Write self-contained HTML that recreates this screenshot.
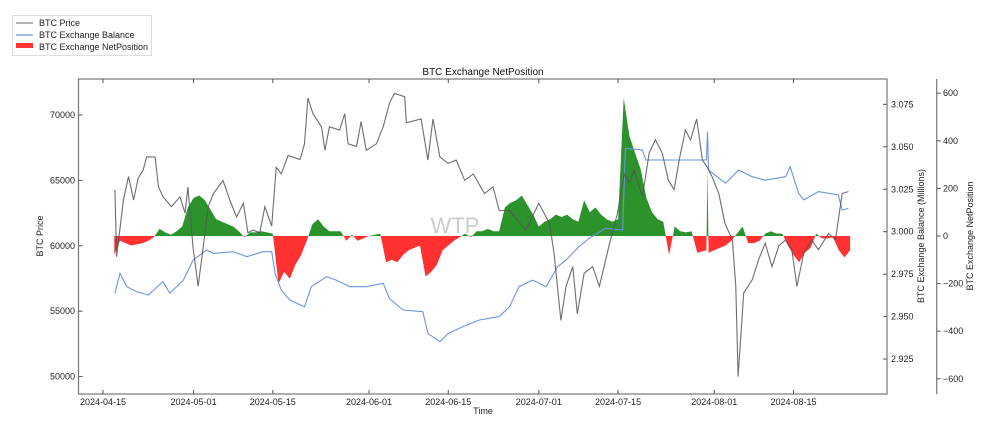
<!DOCTYPE html>
<html><head><meta charset="utf-8"><style>
html,body{margin:0;padding:0;background:#fff;}
svg{display:block;font-family:"Liberation Sans","DejaVu Sans",sans-serif;}
</style></head><body>
<svg id="chart" width="993" height="427" viewBox="0 0 993 427" xmlns="http://www.w3.org/2000/svg">
<defs>
<clipPath id="clipPos"><rect x="78" y="0" width="810" height="236"/></clipPath>
<clipPath id="clipNeg"><rect x="78" y="236" width="810" height="200"/></clipPath>
</defs>
<g id="legend">
<rect x="12.5" y="15.5" width="139" height="40" fill="#fff" stroke="#ddd"/>
<line x1="16" y1="23" x2="33" y2="23" stroke="#888" stroke-width="1.2"/>
<text x="39" y="26" font-size="9" fill="#222">BTC Price</text>
<line x1="16" y1="35" x2="33" y2="35" stroke="#6d93e0" stroke-width="1.2"/>
<text x="39" y="38" font-size="9" fill="#222">BTC Exchange Balance</text>
<rect x="16" y="43" width="17" height="5" fill="#f33"/>
<text x="39" y="50" font-size="9" fill="#222">BTC Exchange NetPosition</text>
</g>
<text x="483" y="75" font-size="10" text-anchor="middle" fill="#111">BTC Exchange NetPosition</text>
<text x="455" y="233" font-size="22" text-anchor="middle" fill="#ccc">WTP</text>
<g id="marks"></g>
<rect x="78.5" y="79" width="808.5" height="315" fill="none" stroke="#777" stroke-width="1.2"/>
<line x1="936.7" y1="79" x2="936.7" y2="394" stroke="#777" stroke-width="1.2"/>
<g id="axes"></g>
<text transform="translate(43,236) rotate(-90)" font-size="9" text-anchor="middle" fill="#222">BTC Price</text>
<text x="483" y="414" font-size="9" text-anchor="middle" fill="#222">Time</text>
<text transform="translate(924,236) rotate(-90)" font-size="9" text-anchor="middle" fill="#222">BTC Exchange Balance (Millions)</text>
<text transform="translate(973,236) rotate(-90)" font-size="9" text-anchor="middle" fill="#222">BTC Exchange NetPosition</text>
</svg>
<script>
const priceDays=[2.1,2.4,3.6,4.5,5.4,6.2,7.1,7.7,9.2,9.8,10.6,12.1,13.6,14.5,15,15.9,16.8,17.7,18.6,19.5,21.2,22.4,23.6,24.8,25.6,26.5,27.7,28.6,29.8,30.6,31.5,32.7,34.8,35.6,36.2,37.1,38.6,39.2,40,41.8,42.7,43.3,44.8,45.6,46.5,48.3,49.5,50.6,51.5,53.3,53.6,56.2,57.4,58.3,59.5,61,62.4,63.9,65.4,67.4,68.9,70,71.8,74.7,77,78.9,79.7,80.9,81.8,83,83.8,85,86.5,87.7,89.4,90.9,92.1,93,93.8,95.3,96.5,97.6,98.8,99.9,100.9,101.8,102.9,103.8,104.9,105.9,106.7,107.6,108.8,109.9,111.2,111.8,112.2,113.2,114.7,115.8,117,118.2,119.4,120.6,121.7,122.6,123.8,125.2,126.4,128.2,129.4,130.6,131.7];
const priceVals=[64270,59170,63500,65300,63500,65160,65800,66800,66800,64500,63750,63000,63750,62500,64500,59900,56900,59900,63000,64000,65000,63500,62200,63250,61000,61200,61000,63000,61500,66000,65500,66900,66600,67800,71300,70100,69100,67300,69100,68850,70100,67800,67600,69500,67300,67800,69100,70900,71650,71400,69400,69700,66560,69700,66800,66300,66560,65000,65500,64000,64500,62700,62700,61200,63250,61700,59400,54300,56900,58400,54800,57900,58400,56900,60000,62500,65500,64800,65800,63750,67100,68100,67100,65000,64300,66560,68850,68100,69700,66560,66050,65300,64000,61700,60450,56900,50000,56400,57400,58900,60200,58400,60000,60450,59700,56900,59400,60450,59700,60950,60450,64000,64140];
const balDays=[2.1,3,4.2,5.9,8,10.6,11.8,14.2,15.9,18.3,19.5,23,25.4,28.3,29.8,30.4,31.5,33,35.6,36.8,39.5,41.2,43.6,46.5,49.5,50.6,53,56.5,57.4,59.5,61,63.6,66.5,70,71.8,73.5,75.9,78.3,80.3,81.8,84.1,85.9,88.8,91.8,92.3,95.3,95.9,99.4,101.8,105.3,106.6,106.8,107,110,112.3,114.7,117,120.6,121.4,122.9,123.8,126.4,129.9,130.6,131.7];
const balVals=[2.9637,2.9755,2.9676,2.9647,2.9627,2.9706,2.9637,2.9715,2.9833,2.9892,2.9872,2.9882,2.9853,2.9882,2.9882,2.9755,2.9656,2.9597,2.9558,2.9676,2.9735,2.9715,2.9676,2.9676,2.9696,2.9607,2.9539,2.9529,2.9401,2.9352,2.9401,2.9441,2.9480,2.9500,2.9558,2.9676,2.9715,2.9676,2.9794,2.9833,2.9912,2.9961,3.0020,3.0010,3.0491,3.0481,3.0422,3.0422,3.0422,3.0422,3.0422,3.0589,3.0363,3.0285,3.0363,3.0324,3.0304,3.0324,3.0383,3.0226,3.0187,3.0236,3.0216,3.0128,3.0137];
const netDays=[2,3,4,5,6,7,8,9,10,11,12,13,14,15,16,17,18,19,20,21,22,23,24,25,26,27,28,29,30,31,32,33,34,35,36,37,38,39,40,41,42,43,44,45,46,47,48,49,50,51,52,53,54,55,56,57,58,59,60,61,62,63,64,65,66,67,68,69,70,71,72,73,74,75,76,77,78,79,80,81,82,83,84,85,86,87,88,89,90,91,92,93,94,95,96,97,98,99,100,101,102,103,104,105,106.6,106.8,107,108,109,110,111,112,113,114,115,116,117,118,119,120,121,122,123,124,125,126,127,128,129,130,131,132];
const netVals=[-80,-20,-30,-40,-35,-30,-20,-5,30,15,5,20,40,120,160,170,150,110,70,60,50,40,20,-5,15,15,20,15,10,-200,-150,-180,-120,-80,-20,50,70,40,20,20,20,-20,5,-20,-10,0,5,10,-110,-100,-110,-80,-60,-50,-40,-170,-150,-120,-60,-40,-20,-5,10,-5,20,20,30,20,20,120,140,150,170,130,90,40,60,70,90,80,90,70,60,150,100,120,90,70,60,70,580,420,350,280,160,100,70,60,-80,40,20,15,20,-70,-60,280,-70,-60,-50,-40,-20,10,40,-30,-30,-20,10,20,10,10,-40,-80,-110,-70,-50,10,-10,-10,-5,-60,-90,-60];
const dateTicks=["2024-04-15","2024-05-01","2024-05-15","2024-06-01","2024-06-15","2024-07-01","2024-07-15","2024-08-01","2024-08-15"];
const dateTickDays=[0,16,30,47,61,77,91,108,122];
const priceTicks=[50000,55000,60000,65000,70000];
const balTicks=[2.925,2.950,2.975,3.000,3.025,3.050,3.075];
const netTicks=[-600,-400,-200,0,200,400,600];

const NS="http://www.w3.org/2000/svg";
const xS=d=>103+d*5.66;
const yP=p=>115+(70000-p)*0.01308;
const yB=b=>231.7+(3-b)/0.025*42.45;
const yN=n=>236-n/200*47.6;
function mk(tag,attrs,parent){const e=document.createElementNS(NS,tag);for(const k in attrs)e.setAttribute(k,attrs[k]);parent.appendChild(e);return e;}
const marks=document.getElementById('marks');
const axes=document.getElementById('axes');

let pts=[];
for(let i=0;i<netDays.length;i++)pts.push(xS(netDays[i]).toFixed(1)+","+yN(netVals[i]).toFixed(1));
const areaPts=xS(netDays[0]).toFixed(1)+","+yN(0)+" "+pts.join(" ")+" "+xS(netDays[netDays.length-1]).toFixed(1)+","+yN(0);
const pos=mk('polygon',{points:areaPts,fill:'#1a8a1a','fill-opacity':'0.92','clip-path':'url(#clipPos)'},marks);


const neg=mk('polygon',{points:areaPts,fill:'#ff2020','fill-opacity':'0.92','clip-path':'url(#clipNeg)'},marks);



const bl=mk('polyline',{points:balDays.map((d,i)=>xS(d).toFixed(1)+","+yB(balVals[i]).toFixed(1)).join(" "),fill:'none',stroke:'#6d93e0','stroke-width':'1.1'},marks);


const pl=mk('polyline',{points:priceDays.map((d,i)=>xS(d).toFixed(1)+","+yP(priceVals[i]).toFixed(1)).join(" "),fill:'none',stroke:'#555','stroke-opacity':'0.85','stroke-width':'1.1'},marks);



dateTicks.forEach((t,i)=>{const x=xS(dateTickDays[i]);
 mk('line',{x1:x,y1:394,x2:x,y2:390,stroke:'#555'},axes);mk('line',{x1:x,y1:79,x2:x,y2:83,stroke:'#555'},axes);
 const tx=mk('text',{x:x,y:405,'font-size':'9','text-anchor':'middle',fill:'#222'},axes);tx.textContent=t;
 
 });
priceTicks.forEach(t=>{const y=yP(t);
 mk('line',{x1:78.5,y1:y,x2:82.5,y2:y,stroke:'#555'},axes);
 const tx=mk('text',{x:75,y:y+3,'font-size':'9','text-anchor':'end',fill:'#222'},axes);tx.textContent=t;
 
 });
balTicks.forEach(t=>{const y=yB(t);
 mk('line',{x1:887,y1:y,x2:883,y2:y,stroke:'#555'},axes);
 const tx=mk('text',{x:891,y:y+3,'font-size':'9',fill:'#222'},axes);tx.textContent=t.toFixed(3);
 
 });
netTicks.forEach(t=>{const y=yN(t);
 mk('line',{x1:936.7,y1:y,x2:940.7,y2:y,stroke:'#555'},axes);
 const tx=mk('text',{x:943,y:y+3,'font-size':'9',fill:'#222'},axes);tx.textContent=(t<0?'\u2212'+(-t):t);
 
 });
</script>
</body></html>
